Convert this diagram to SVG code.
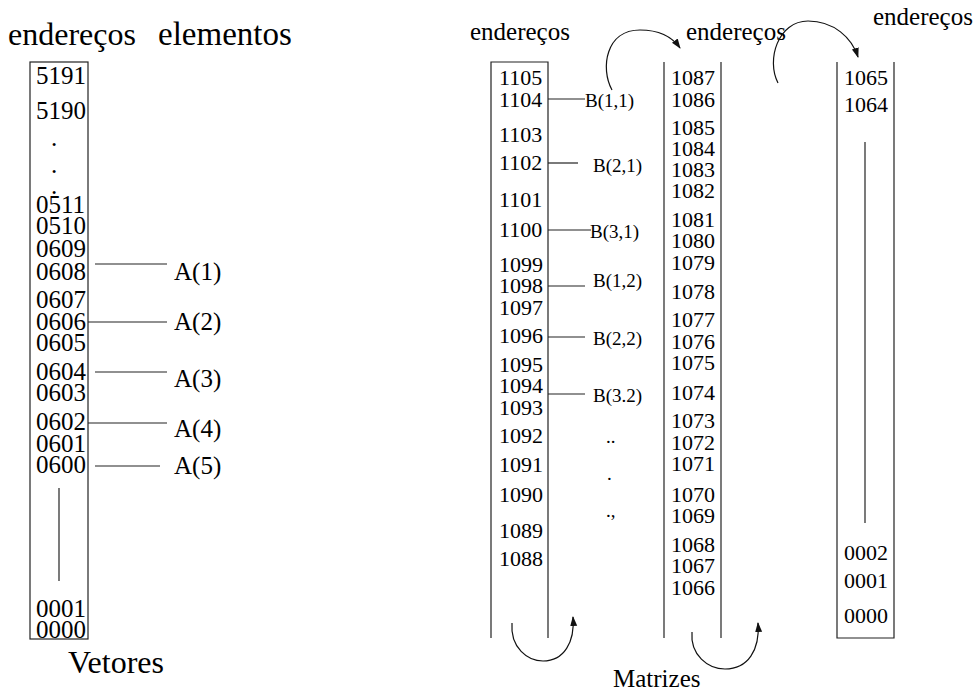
<svg xmlns="http://www.w3.org/2000/svg" width="977" height="692" viewBox="0 0 977 692" font-family="'Liberation Serif', 'DejaVu Serif', 'Times New Roman', serif">
  <style>
    text { font-family: 'Liberation Serif', 'DejaVu Serif', 'Times New Roman', serif; fill: #000; }
    .head { font-size: 32px; }
    .cap { font-size: 32px; }
    .big { font-size: 25px; }
    .el { font-size: 25px; }
    .hd2 { font-size: 25px; }
    .num { font-size: 22px; }
    .lbl { font-size: 19px; }
    .ln { stroke: #222; stroke-width: 1.2; fill: none; }
    .arc { stroke: #111; stroke-width: 1.2; fill: none; marker-end: url(#head); }
  </style>
  <defs>
    <marker id="head" viewBox="0 0 10 10" refX="9" refY="5" markerWidth="10" markerHeight="10" markerUnits="userSpaceOnUse" orient="auto">
      <path d="M0,1.5 L10,5 L0,8.5 Z" fill="#111"/>
    </marker>
  </defs>
  <rect width="977" height="692" fill="#fff"/>

  <!-- Vector memory: single column of addresses -->
  <g id="vetor">
    <text class="head" x="8" y="45">endereços</text>
    <text class="head" x="158" y="45" style="font-size:33px">elementos</text>
    <rect class="ln" x="30" y="62" width="58" height="577"/>
    <g class="big">
      <text x="36" y="84">5191</text>
      <text x="36" y="119">5190</text>
      <text x="51" y="146">.</text>
      <text x="51" y="173">.</text>
      <text x="51" y="194">.</text>
      <text x="36" y="213">0511</text>
      <text x="36" y="234">0510</text>
      <text x="36" y="257">0609</text>
      <text x="36" y="280">0608</text>
      <text x="36" y="308">0607</text>
      <text x="36" y="330">0606</text>
      <text x="36" y="351">0605</text>
      <text x="36" y="380">0604</text>
      <text x="36" y="401">0603</text>
      <text x="36" y="430">0602</text>
      <text x="36" y="452">0601</text>
      <text x="36" y="473">0600</text>
      <text x="36" y="617">0001</text>
      <text x="36" y="638">0000</text>
    </g>
    <line class="ln" x1="59" y1="488" x2="59" y2="581"/>
    <g class="el">
      <text x="174" y="280">A(1)</text>
      <text x="174" y="330">A(2)</text>
      <text x="174" y="387">A(3)</text>
      <text x="174" y="437">A(4)</text>
      <text x="174" y="474">A(5)</text>
    </g>
    <text class="cap" x="68" y="673">Vetores</text>
  </g>

  <!-- Matrix memory: first column -->
  <g id="coluna1">
    <text class="hd2" x="470" y="40">endereços</text>
    <path class="ln" d="M491,638 V62 H548 V638"/>
    <g class="num">
      <text x="499" y="85">1105</text>
      <text x="499" y="107">1104</text>
      <text x="499" y="142">1103</text>
      <text x="499" y="170">1102</text>
      <text x="499" y="207">1101</text>
      <text x="499" y="237">1100</text>
      <text x="499" y="272">1099</text>
      <text x="499" y="293">1098</text>
      <text x="499" y="315">1097</text>
      <text x="499" y="343">1096</text>
      <text x="499" y="372">1095</text>
      <text x="499" y="393">1094</text>
      <text x="499" y="415">1093</text>
      <text x="499" y="443">1092</text>
      <text x="499" y="472">1091</text>
      <text x="499" y="502">1090</text>
      <text x="499" y="538">1089</text>
      <text x="499" y="566">1088</text>
    </g>
    <g class="lbl">
      <text x="585" y="107">B(1,1)</text>
      <text x="593" y="172">B(2,1)</text>
      <text x="590" y="238">B(3,1)</text>
      <text x="593" y="287">B(1,2)</text>
      <text x="593" y="345">B(2,2)</text>
      <text x="593" y="402">B(3.2)</text>
      <text x="606" y="443">..</text>
      <text x="607" y="480">.</text>
      <text x="606" y="517">.,</text>
    </g>
  </g>

  <!-- Matrix memory: second column -->
  <g id="coluna2">
    <text class="hd2" x="686" y="40">endereços</text>
    <line class="ln" x1="664" y1="62" x2="664" y2="638"/>
    <line class="ln" x1="721" y1="62" x2="721" y2="638"/>
    <g class="num">
      <text x="671" y="85">1087</text>
      <text x="671" y="107">1086</text>
      <text x="671" y="135">1085</text>
      <text x="671" y="156">1084</text>
      <text x="671" y="177">1083</text>
      <text x="671" y="198">1082</text>
      <text x="671" y="227">1081</text>
      <text x="671" y="248">1080</text>
      <text x="671" y="270">1079</text>
      <text x="671" y="299">1078</text>
      <text x="671" y="327">1077</text>
      <text x="671" y="349">1076</text>
      <text x="671" y="370">1075</text>
      <text x="671" y="400">1074</text>
      <text x="671" y="428">1073</text>
      <text x="671" y="450">1072</text>
      <text x="671" y="471">1071</text>
      <text x="671" y="502">1070</text>
      <text x="671" y="523">1069</text>
      <text x="671" y="552">1068</text>
      <text x="671" y="573">1067</text>
      <text x="671" y="595">1066</text>
    </g>
  </g>

  <!-- Matrix memory: last column -->
  <g id="coluna3">
    <text class="hd2" x="873" y="25">endereços</text>
    <path class="ln" d="M837,62 V638 H894 V62"/>
    <line class="ln" x1="865" y1="142" x2="865" y2="523"/>
    <g class="num">
      <text x="844" y="85">1065</text>
      <text x="844" y="112">1064</text>
      <text x="844" y="560">0002</text>
      <text x="844" y="588">0001</text>
      <text x="844" y="623">0000</text>
    </g>
    <text class="hd2" x="613" y="687">Matrizes</text>
  </g>

  <!-- Connectors: element leaders and wrap-around arcs -->
  <g id="conectores">
    <line class="ln" x1="95" y1="264" x2="167" y2="264"/>
    <line class="ln" x1="88" y1="322" x2="167" y2="322"/>
    <line class="ln" x1="95" y1="372" x2="167" y2="372"/>
    <line class="ln" x1="88" y1="423" x2="167" y2="423"/>
    <line class="ln" x1="95" y1="466" x2="160" y2="466"/>

    <line class="ln" x1="548" y1="99" x2="585" y2="99"/>
    <line class="ln" x1="548" y1="163" x2="578" y2="163"/>
    <line class="ln" x1="548" y1="230" x2="591" y2="230"/>
    <line class="ln" x1="548" y1="286" x2="585" y2="286"/>
    <line class="ln" x1="548" y1="337" x2="585" y2="337"/>
    <line class="ln" x1="548" y1="394" x2="585" y2="394"/>

    <path class="arc" d="M612,90 C600,68 606,30 640,30 C660,30 673,38 680,48"/>
    <path class="arc" d="M778,83 C766,60 778,21 808,21 C834,21 852,38 858,57"/>
    <path class="arc" d="M512,623 C510,648 528,661 543,661 C564,661 575,642 573,617"/>
    <path class="arc" d="M692,632 C690,655 708,669 725,669 C748,669 760,650 758,623"/>
  </g>
</svg>
